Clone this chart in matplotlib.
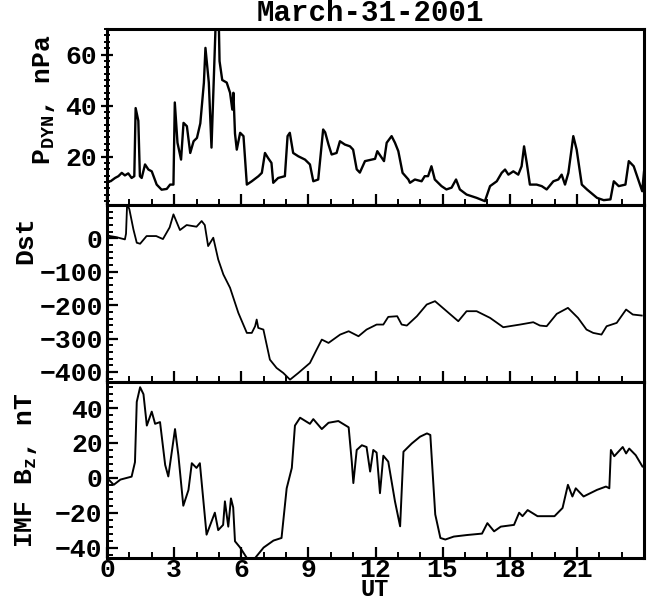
import matplotlib
matplotlib.use('Agg')
import matplotlib.pyplot as plt
from matplotlib.ticker import MultipleLocator

plt.rcParams['font.family'] = ['Liberation Mono', 'DejaVu Sans Mono']
plt.rcParams['font.weight'] = 'bold'
plt.rcParams['mathtext.default'] = 'regular'

title = 'March-31-2001'

# solar wind dynamic pressure, nPa
pdyn_t = [0.0, 0.16, 0.36, 0.51, 0.66, 0.8, 0.95, 1.1, 1.22, 1.28, 1.4, 1.47, 1.55, 1.7, 1.85,
          2.0, 2.22, 2.44, 2.67, 2.82, 2.97, 3.03, 3.15, 3.31, 3.42, 3.57, 3.72, 3.87, 4.02,
          4.17, 4.33, 4.4, 4.55, 4.67, 4.85, 5.0, 5.03, 5.15, 5.35, 5.5, 5.6, 5.65, 5.72, 5.8,
          5.95, 6.1, 6.25, 6.47, 6.77, 6.92, 7.06, 7.2, 7.35, 7.43, 7.65, 7.95, 8.07, 8.17,
          8.32, 8.55, 8.85, 9.07, 9.22, 9.44, 9.66, 9.75, 9.9, 10.04, 10.26, 10.41, 10.63,
          10.86, 11.0, 11.16, 11.3, 11.53, 11.98, 12.08, 12.28, 12.38, 12.5, 12.72, 12.87,
          13.02, 13.21, 13.47, 13.54, 13.76, 14.06, 14.2, 14.35, 14.5, 14.65, 14.95, 15.17,
          15.4, 15.6, 15.77, 16.07, 16.52, 16.89, 17.12, 17.42, 17.64, 17.79, 17.94, 18.16,
          18.38, 18.53, 18.64, 18.76, 18.9, 19.2, 19.43, 19.65, 19.95, 20.17, 20.32, 20.47,
          20.62, 20.84, 20.99, 21.22, 21.45, 21.9, 22.2, 22.5, 22.65, 22.87, 23.17, 23.32,
          23.54, 23.77, 23.92, 24.0]
pdyn_v = [10.3, 10.3, 11.6, 12.3, 13.6, 12.6, 13.4, 11.6, 12.3, 39.0, 34.0, 12.3, 11.6, 16.9, 14.9,
          14.2, 9.0, 7.0, 7.3, 9.0, 9.0, 41.2, 25.4, 18.8, 33.2, 31.9, 21.4, 26.0, 27.3,
          33.0, 48.9, 62.6, 49.0, 23.5, 70.5, 71.0, 57.4, 50.0, 49.0, 45.0, 38.4, 45.0, 29.0, 22.7,
          29.3, 28.0, 9.0, 10.3, 12.3, 13.6, 21.4, 19.4, 17.5, 9.7, 11.6, 12.3, 28.0, 29.3,
          21.4, 20.1, 18.8, 16.9, 10.3, 11.0, 30.6, 29.5, 24.7, 20.8, 21.4, 26.0, 24.7,
          24.0, 22.7, 15.0, 13.7, 18.2, 19.1, 22.1, 19.5, 18.2, 25.4, 28.0, 25.4,
          22.1, 13.6, 11.0, 9.7, 11.0, 10.3, 12.3, 12.3, 16.2, 11.0, 8.4, 7.1,
          7.8, 11.0, 7.1, 5.1, 3.8, 2.5, 8.4, 10.3, 13.6, 14.9, 12.9, 14.2,
          12.9, 16.2, 24.0, 17.5, 9.0, 9.0, 8.4, 7.1, 10.3, 11.0, 12.9, 9.0,
          13.6, 28.0, 22.7, 9.0, 7.1, 3.8, 2.9, 3.2, 10.3, 8.4, 9.0, 18.2,
          16.2, 10.3, 6.4, 14.0]

# Dst index, nT
dst_t = [0.0, 0.13, 0.4, 0.8, 0.85, 0.9, 1.0, 1.18, 1.33, 1.48, 1.77, 2.2, 2.5, 2.8, 2.97,
         3.26, 3.56, 4.0, 4.23, 4.37, 4.52, 4.75, 4.97, 5.2, 5.5, 5.87, 6.25, 6.47, 6.62,
         6.69, 6.76, 6.99, 7.28, 7.58, 7.88, 8.18, 8.55, 9.07, 9.37, 9.6, 9.9, 10.42, 10.8,
         11.24, 11.6, 12.05, 12.35, 12.57, 12.97, 13.17, 13.4, 13.85, 14.29, 14.66, 15.18,
         15.7, 16.07, 16.52, 17.12, 17.71, 18.46, 19.05, 19.35, 19.65, 20.1, 20.6, 21.05,
         21.43, 21.73, 22.1, 22.33, 22.78, 23.2, 23.5, 23.9]
dst_v = [10, 7, 4, -3, 14, 105, 87, 27, -13, -16, 7, 7, -2, 33, 72,
         25, 40, 35, 52, 40, -23, 2, -63, -108, -148, -223, -283, -283, -263,
         -243, -268, -273, -363, -388, -403, -423, -403, -373, -333, -303, -313, -288, -278,
         -293, -273, -258, -258, -235, -233, -258, -261, -233, -198, -188, -218,
         -248, -218, -218, -238, -266, -258, -251, -261, -263, -226, -208, -238,
         -273, -283, -288, -263, -253, -213, -228, -231]

# IMF Bz, nT
bz_t = [0.0, 0.3, 0.6, 1.1, 1.25, 1.33, 1.48, 1.63, 1.78, 2.0, 2.15, 2.37, 2.6, 2.74, 3.04,
        3.19, 3.41, 3.64, 3.79, 4.0, 4.15, 4.45, 4.82, 4.97, 5.19, 5.27, 5.42, 5.54, 5.64,
        5.72, 5.95, 6.25, 6.62, 7.0, 7.44, 7.8, 8.03, 8.26, 8.4, 8.63, 9.07, 9.22, 9.6, 9.9,
        10.34, 10.8, 10.94, 11.01, 11.16, 11.39, 11.6, 11.76, 11.9, 12.05, 12.2, 12.35, 12.57,
        12.87, 13.1, 13.25, 13.62, 13.99, 14.3, 14.45, 14.67, 14.9, 15.12, 15.5, 16.1, 16.76,
        17.0, 17.3, 17.6, 18.19, 18.42, 18.57, 18.8, 19.24, 20.0, 20.36, 20.6, 20.8, 20.95,
        21.3, 21.9, 22.3, 22.45, 22.52, 22.67, 23.05, 23.2, 23.34, 23.63, 23.93]
bz_v = [0.0, -4.0, -1.0, 0.7, 9.0, 43.6, 52.0, 48.0, 30.0, 38.0, 31.0, 32.0, 7.4, 0.8, 28.0,
        13.0, -16.0, -7.0, 8.4, 5.7, 8.4, -32.6, -20.0, -30.0, -27.0, -13.5, -28.0, -11.8, -17.0,
        -36.4, -40.0, -46.0, -46.0, -40.0, -36.0, -34.5, -6.0, 5.7, 30.0, 34.5, 31.0, 33.7, 28.0, 31.6,
        32.6, 29.0, 9.3, -3.0, 16.0, 18.7, 17.7, 3.6, 16.0, 14.5, -8.8, 12.7, 9.3,
        -13.5, -27.8, 15.0, 19.7, 23.6, 25.5, 24.6, -21.0, -34.5, -35.4, -33.7, -32.8, -32.0,
        -26.0, -30.7, -28.0, -27.0, -20.0, -22.0, -18.5, -22.0, -22.0, -17.3, -4.0, -10.7, -6.0,
        -10.7, -6.9, -5.0, -6.0, 16.0, 12.4, 17.7, 14.0, 16.8, 13.0, 6.5]

fig = plt.figure(figsize=(6.49, 6.01), dpi=100)
L, W = 107 / 649, 537 / 649
ax1 = fig.add_axes([L, 1 - 205 / 601, W, 176 / 601])
ax2 = fig.add_axes([L, 1 - 382 / 601, W, 177 / 601])
ax3 = fig.add_axes([L, 1 - 558 / 601, W, 176 / 601])

ax1.plot(pdyn_t, pdyn_v, color='black', lw=1.7)
ax2.plot(dst_t, dst_v, color='black', lw=1.3)
ax3.plot(bz_t, bz_v, color='black', lw=1.4)

ax1.set_ylim(1, 70)
ax2.set_ylim(-430, 100)
ax3.set_ylim(-46, 55)

ax1.set_yticks([20, 40, 60])
ax1.yaxis.set_minor_locator(MultipleLocator(2.5))
ax2.set_yticks([0, -100, -200, -300, -400])
ax2.yaxis.set_minor_locator(MultipleLocator(20))
ax3.set_yticks([-40, -20, 0, 20, 40])
ax3.yaxis.set_minor_locator(MultipleLocator(4))

for ax in (ax1, ax2, ax3):
    ax.set_xlim(0, 24)
    ax.set_xticks(range(0, 22, 3))
    ax.xaxis.set_minor_locator(MultipleLocator(1))
    for s in ax.spines.values():
        s.set_linewidth(2.2)
    ax.tick_params(axis='both', which='major', direction='in', length=8, width=1.6,
                   labelsize=19, pad=3)
    ax.tick_params(axis='both', which='minor', direction='in', length=4, width=1.4)
ax1.tick_params(axis='y', which='both', direction='inout')
ax1.tick_params(axis='x', labelbottom=False)
ax2.tick_params(axis='x', labelbottom=False)
ax3.tick_params(axis='x', which='major', pad=0)

# UT sits tight under the "12" label, as in the original
fig.text(375 / 649, 1 - 596 / 601, 'UT', ha='center', va='baseline', fontsize=17)
fig.text(44 / 649, 1 - 100 / 601, 'P$_{DYN}$, nPa', rotation=90, ha='center', va='center',
         fontsize=19)
fig.text(25 / 649, 1 - 240 / 601, 'Dst', rotation=90, ha='center', va='center', fontsize=19)
fig.text(26 / 649, 1 - 470 / 601, 'IMF B$_z$, nT', rotation=90, ha='center', va='center',
         fontsize=19)
fig.text(370 / 649, 1 - 13 / 601, title, ha='center', va='center', fontsize=21)

fig.savefig('out.png', dpi=100)
